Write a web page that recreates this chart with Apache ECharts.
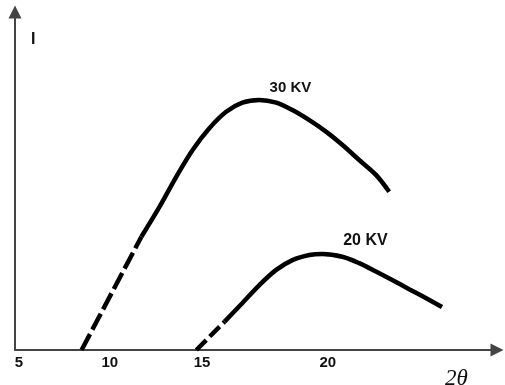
<!DOCTYPE html>
<html>
<head>
<meta charset="utf-8">
<script src="https://cdn.jsdelivr.net/npm/echarts@6/dist/echarts.min.js"></script>
<style>
  html, body { margin: 0; padding: 0; background: #fff; }
  #chart { width: 505px; height: 385px; }
</style>
</head>
<body>
<div id="chart"></div>
<script>
// 2θ (deg) vs intensity (arbitrary units)
const kv30Dashed = [[8.73, 0], [12.08, 33.5]];
const kv30Solid = [
  [12.08, 33.5], [13.1, 42.4], [14.04, 51.3], [14.95, 59.2], [15.9, 65.7],
  [16.83, 70.5], [17.74, 73.2], [18.69, 74.0], [19.63, 73.2], [20.54, 71.0],
  [21.49, 68.0], [22.42, 64.6], [23.33, 60.7], [24.28, 56.2], [25.22, 51.8],
  [25.96, 46.8]
];
const kv20Dashed = [[15.16, 0], [16.74, 8.4]];
const kv20Solid = [
  [16.74, 8.4], [17.74, 13.9], [18.69, 19.2], [19.63, 23.7], [20.54, 26.6],
  [21.49, 28.1], [22.22, 28.4], [23.33, 27.6], [24.28, 25.7], [25.22, 23.2],
  [26.13, 20.7], [27.08, 18.0], [28.01, 15.4], [28.92, 12.7]
];
const kv30Peak = 7;   // index of the point carrying the label
const kv20Peak = 6;
const seriesNames = ["30 KV", "20 KV"];

// tick labels sit where the sketch drew them
const tickValues = [5.22, 10.31, 15.48, 22.52];
const tickLabels = ["5", "10", "15", "20"];

const FONT = "Liberation Sans, Arial, sans-serif";
const chart = echarts.init(document.getElementById("chart"));

const withLabel = (data, idx, text, dx, size) =>
  data.map((p, i) =>
    i === idx
      ? {
          value: p,
          symbol: "circle",
          symbolSize: 2,
          itemStyle: { color: "#000" },
          label: {
            show: true,
            position: "top",
            distance: 4,
            offset: [dx, 0],
            formatter: text,
            color: "#111",
            fontWeight: "bold",
            fontSize: size,
            fontFamily: FONT,
          },
        }
      : p
  );

const lineBase = {
  type: "line",
  symbol: "none",
  showSymbol: true,
  silent: true,
};

const option = {
  animation: false,
  grid: { left: 15, right: 8, top: 12, bottom: 35 },
  title: [
    {
      text: "I",
      left: 31,
      top: 32,
      padding: 0,
      textStyle: { fontSize: 16, fontWeight: "bold", color: "#111", fontFamily: FONT },
    },
    {
      text: "2θ",
      left: 445,
      top: 367,
      padding: 0,
      textStyle: { fontSize: 23, fontWeight: "normal", fontStyle: "italic", color: "#111", fontFamily: "Liberation Serif, DejaVu Serif, serif" },
    },
  ],
  xAxis: {
    type: "value",
    min: 5,
    max: 32,
    splitLine: { show: false },
    axisTick: { show: false },
    axisLine: {
      onZero: false,
      symbol: ["none", "triangle"],
      symbolSize: [13, 13],
      lineStyle: { color: "#444", width: 2 },
    },
    axisLabel: {
      customValues: tickValues,
      margin: 5,
      formatter: (v) => {
        const i = tickValues.indexOf(v);
        return i >= 0 ? tickLabels[i] : "";
      },
      color: "#111",
      fontWeight: "bold",
      fontSize: 15,
      fontFamily: FONT,
      showMinLabel: true,
      showMaxLabel: true,
    },
  },
  yAxis: {
    type: "value",
    min: 0,
    max: 100,
    splitLine: { show: false },
    axisTick: { show: false },
    axisLabel: { show: false },
    axisLine: {
      show: true,
      symbol: ["none", "triangle"],
      symbolSize: [13, 13],
      lineStyle: { color: "#444", width: 2 },
    },
  },
  series: [
    {
      ...lineBase,
      name: seriesNames[0] + " dashed",
      data: kv30Dashed,
      lineStyle: { color: "#000", width: 4.5, type: [18, 5] },
    },
    {
      ...lineBase,
      name: seriesNames[0],
      data: withLabel(kv30Solid, kv30Peak, seriesNames[0], 31, 15),
      smooth: 0.35,
      lineStyle: { color: "#000", width: 4.5 },
    },
    {
      ...lineBase,
      name: seriesNames[1] + " dashed",
      data: kv20Dashed,
      lineStyle: { color: "#000", width: 4.5, type: [14, 5] },
    },
    {
      ...lineBase,
      name: seriesNames[1],
      data: withLabel(kv20Solid, kv20Peak, seriesNames[1], 43, 16),
      smooth: 0.35,
      lineStyle: { color: "#000", width: 4.5 },
    },
  ],
};

chart.setOption(option);
</script>
</body>
</html>
